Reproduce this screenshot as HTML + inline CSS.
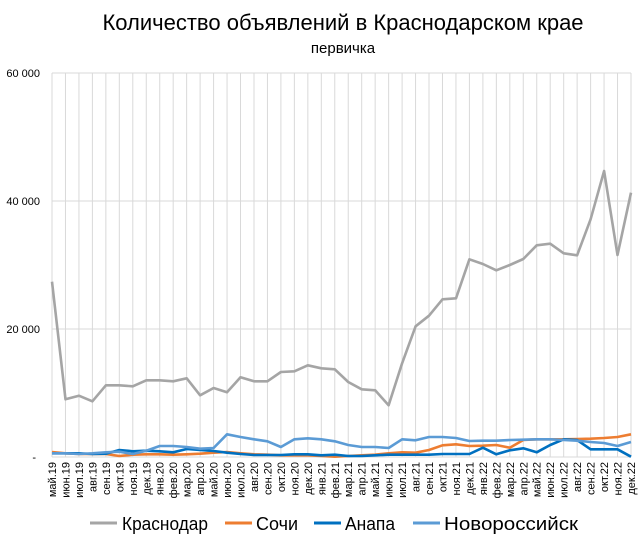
<!DOCTYPE html>
<html><head><meta charset="utf-8"><style>
body{margin:0;background:#fff;width:641px;height:545px;overflow:hidden;font-family:"Liberation Sans",sans-serif}
</style></head><body>
<svg id="s" width="641" height="545" xmlns="http://www.w3.org/2000/svg" font-family="Liberation Sans, sans-serif">
<text x="343" y="30" font-size="22" text-anchor="middle" fill="#000">Количество объявлений в Краснодарском крае</text>
<text x="343" y="53" font-size="15" text-anchor="middle" fill="#000">первичка</text>
<g font-size="11" fill="#000" text-anchor="end">
<text x="40" y="77">60 000</text>
<text x="40" y="205">40 000</text>
<text x="40" y="333">20 000</text>
<text x="36" y="461">-</text>
</g>
<g id="grid"></g>
<g id="lines"></g>
<g id="xl" font-size="11" fill="#000"></g>
<g font-size="18" fill="#000">
<line x1="90" y1="523" x2="117" y2="523" stroke="#a5a5a5" stroke-width="3"/>
<text x="122" y="530" textLength="86" lengthAdjust="spacingAndGlyphs">Краснодар</text>
<line x1="225" y1="523" x2="252" y2="523" stroke="#ed7d31" stroke-width="3"/>
<text x="256" y="530" textLength="42" lengthAdjust="spacingAndGlyphs">Сочи</text>
<line x1="314" y1="523" x2="341" y2="523" stroke="#0070c0" stroke-width="3"/>
<text x="345" y="530" textLength="50" lengthAdjust="spacingAndGlyphs">Анапа</text>
<line x1="413" y1="523" x2="440" y2="523" stroke="#5b9bd5" stroke-width="3"/>
<text x="444" y="530" textLength="134" lengthAdjust="spacingAndGlyphs">Новороссийск</text>
</g>
</svg>
<script>
var N=44,x0=52,x1=631,dx=(x1-x0)/(N-1);
var NS="http://www.w3.org/2000/svg";
function el(t,a,p){var e=document.createElementNS(NS,t);for(var k in a)e.setAttribute(k,a[k]);p.appendChild(e);return e;}
var g=document.getElementById('grid');
for(var i=0;i<N;i++){var x=x0+i*dx;el('line',{x1:x,y1:73,x2:x,y2:457,stroke:'#d9d9d9','stroke-width':1},g);}
[73,201,329,457].forEach(function(y){el('line',{x1:x0,y1:y,x2:x1,y2:y,stroke:'#d9d9d9','stroke-width':1},g);});
var kr=[395,748,737,754,706,706,709,691,691,694,685,736,714,727,682,694,694,666,664,646,655,658,696,718,721,766,640,529,497,448,445,328,342,361,345,327,286,281,310,316,208,63,315,128];
var nv=[910,910,912,910,907,905,912,902,888,888,891,896,894,853,861,868,874,891,868,865,868,874,885,891,891,894,868,871,861,861,864,873,872,872,870,869,868,868,870,872,876,879,888,876];
var so=[906,910,912,912,912,918,914,913,913,914,913,911,908,906,910,913,914,916,916,916,918,920,918,916,914,910,907,908,900,886,883,888,887,885,893,870,868,868,868,867,866,864,861,853];
var an=[910,910,910,912,911,900,904,902,904,907,897,900,903,908,912,915,915,915,913,913,916,914,918,918,916,914,914,914,914,912,912,912,893,913,901,895,907,885,868,870,898,898,898,920];
var L=document.getElementById('lines');
function pl(d,c){var p=d.map(function(z,i){return (x0+i*dx).toFixed(1)+','+(150+z/3).toFixed(1);}).join(' ');
el('polyline',{points:p,fill:'none',stroke:c,'stroke-width':2.6,'stroke-linejoin':'round'},L);}
pl(kr,'#a5a5a5');pl(so,'#ed7d31');pl(an,'#0070c0');pl(nv,'#5b9bd5');
var m=['май','июн','июл','авг','сен','окт','ноя','дек','янв','фев','мар','апр'];
var xl=document.getElementById('xl');
for(var i=0;i<N;i++){var mi=i%12,yr=19+Math.floor((i+4)/12);var t=m[mi]+'.'+yr;
var x=x0+i*dx+4;var e=el('text',{x:0,y:0,'text-anchor':'end',transform:'translate('+x.toFixed(1)+',462) rotate(-90)'},xl);e.textContent=t;}
</script>
</body></html>
